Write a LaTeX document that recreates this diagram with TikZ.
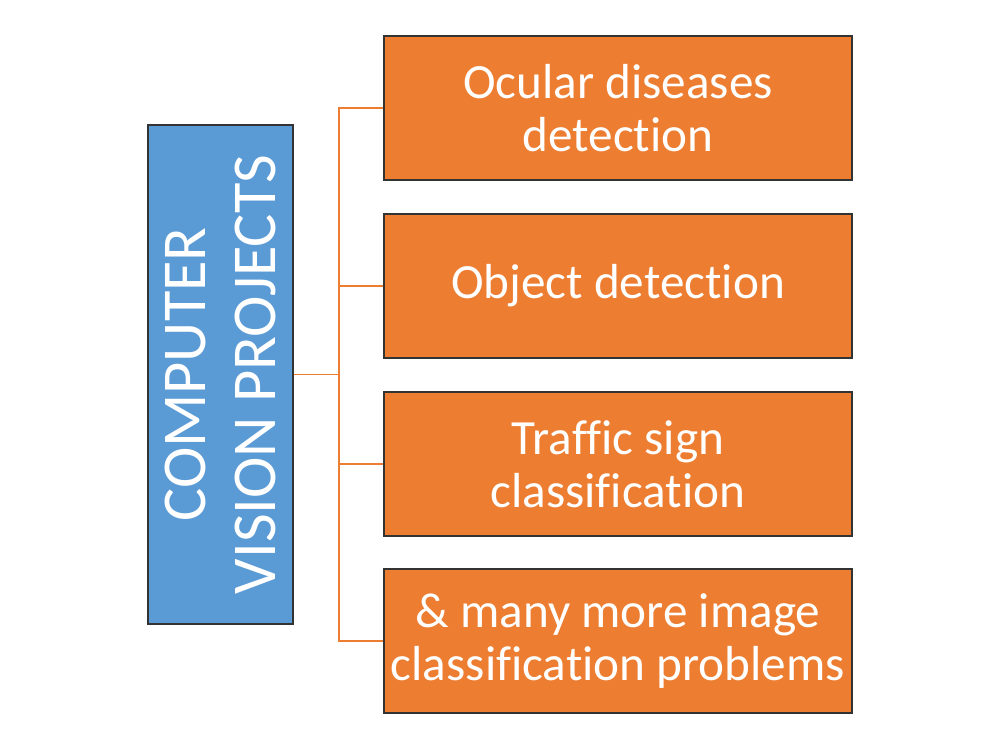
\documentclass[tikz,border=0pt]{standalone}
\usepackage{fontspec}
\setmainfont{Carlito}[Ligatures=NoCommon]
\definecolor{cvblue}{HTML}{5B9BD5}
\definecolor{cvorange}{HTML}{ED7D31}
\tikzset{
  root/.style={draw=black!80, line width=0.8pt, fill=cvblue, text=white,
    minimum width=9.98cm, minimum height=2.9cm, rotate=90, align=center,
    font=\fontsize{35.5}{40}\selectfont},
  leaf/.style={draw=black!80, line width=0.8pt, fill=cvorange, text=white,
    minimum width=9.36cm, minimum height=2.88cm, align=center,
    font=\fontsize{28}{30}\selectfont},
  link/.style={draw=cvorange, line width=0.9pt}
}
\begin{document}
\begin{tikzpicture}[x=0.02cm, y=-0.02cm]
  \useasboundingbox (0,0) rectangle (1000,750);
  \draw
    (220.5,374.5) node[root] (cv){COMPUTER\\VISION PROJECTS}
    (618,108) node[leaf] (0){Ocular diseases\\detection}
    (618,286) node[leaf] (1){Object detection}
    (618,464) node[leaf] (2){Traffic sign\\classification}
    (618,641) node[leaf] (3){\& many more image\\classification problems};
  \coordinate (hub) at (339,374.5);
  \begin{scope}[link]
    \draw (cv.south) -- (hub);
    \draw (hub) |- (0.west);
    \draw (hub) |- (1.west);
    \draw (hub) |- (2.west);
    \draw (hub) |- (3.west);
  \end{scope}
\end{tikzpicture}
\end{document}
